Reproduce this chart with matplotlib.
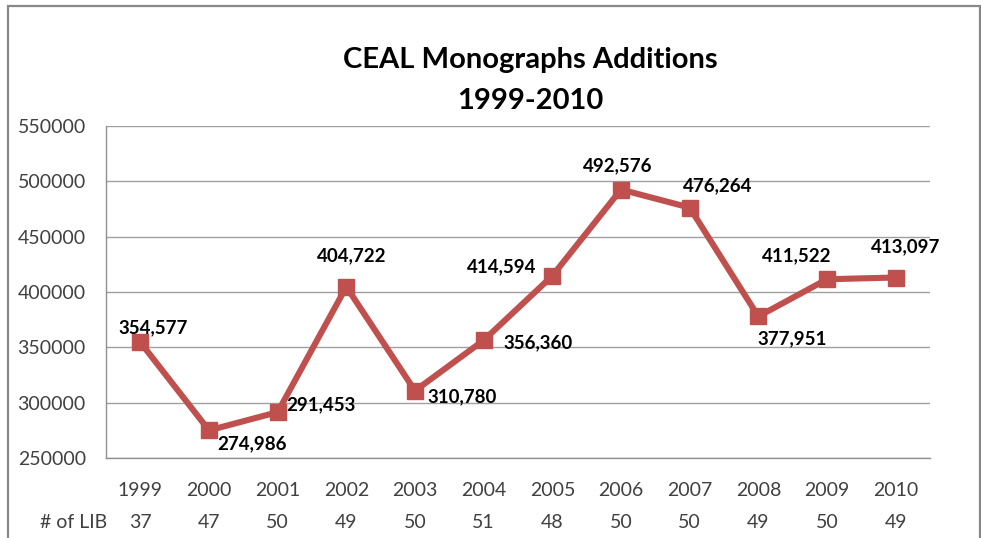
import matplotlib
matplotlib.use("Agg")
import matplotlib.pyplot as plt
from matplotlib.patches import Rectangle
import matplotlib.transforms as mtransforms

years = ["1999", "2000", "2001", "2002", "2003", "2004", "2005", "2006", "2007", "2008", "2009", "2010"]
additions = [354577, 274986, 291453, 404722, 310780, 356360, 414594, 492576, 476264, 377951, 411522, 413097]
num_lib = [37, 47, 50, 49, 50, 51, 48, 50, 50, 49, 50, 49]
yticks = [250000, 300000, 350000, 400000, 450000, 500000, 550000]

plt.rcParams['font.family'] = ['Lato', 'DejaVu Sans']

W, H = 981, 538
fig = plt.figure(figsize=(W / 100, H / 100), dpi=100)
ax = fig.add_axes([106 / W, 1 - 458 / H, (930 - 106) / W, (458 - 126) / H])

# outer frame
fig.patches.append(Rectangle((7.5 / W, -0.05), (979.5 - 7.5) / W, 1.05 - 6.5 / H,
                             transform=fig.transFigure, fill=False,
                             edgecolor='#888888', linewidth=1.6))

x = list(range(len(years)))
color = '#C0504D'
ax.plot(x, additions, color=color, linewidth=4.4, marker='s', markersize=11.5,
        markerfacecolor=color, markeredgecolor=color, zorder=3)

ax.set_xlim(-0.5, len(years) - 0.5)
ax.set_ylim(250000, 550000)
ax.set_yticks(yticks)
ax.set_yticklabels([str(v) for v in yticks], fontsize=14, color='#404040')
ax.tick_params(axis='y', length=0, pad=14.5)
ax.set_xticks([])
ax.grid(axis='y', color='#a0a0a0', linewidth=1.0)
ax.set_axisbelow(True)
for s in ['top', 'right']:
    ax.spines[s].set_visible(False)
for s in ['left', 'bottom']:
    ax.spines[s].set_color('#909090')
    ax.spines[s].set_linewidth(1.0)

# data labels (offsets in pixels)
offsets = [(13, 15), (43, -13), (43, 7), (5, 31), (47, -6), (54, -2),
           (-51, 9), (-3, 24), (28, 22), (34, -22), (-30, 23), (10, 31)]
for xi, v, (dx, dy) in zip(x, additions, offsets):
    ax.annotate(f"{v:,}", (xi, v), xytext=(dx, dy), textcoords='offset pixels',
                ha='center', va='center', fontsize=13.5, fontweight='bold',
                color='black')

# category rows
trans = mtransforms.blended_transform_factory(ax.transData, fig.transFigure)
for xi, yr, n in zip(x, years, num_lib):
    fig.text(0, 1 - 491 / H, yr, transform=trans, ha='center', va='center',
             fontsize=14, color='#404040').set_x(xi)
    fig.text(0, 1 - 522 / H, str(n), transform=trans, ha='center', va='center',
             fontsize=14, color='#404040').set_x(xi)
fig.text(74 / W, 1 - 522 / H, "# of LIB", ha='center', va='center',
         fontsize=14, color='#404040')

fig.text(530 / W, 1 - 60 / H, "CEAL Monographs Additions", ha='center', va='center',
         fontsize=21, fontweight='bold', color='black')
fig.text(530 / W, 1 - 101 / H, "1999-2010", ha='center', va='center',
         fontsize=21, fontweight='bold', color='black')

fig.savefig("out.png", dpi=100, facecolor='white')
